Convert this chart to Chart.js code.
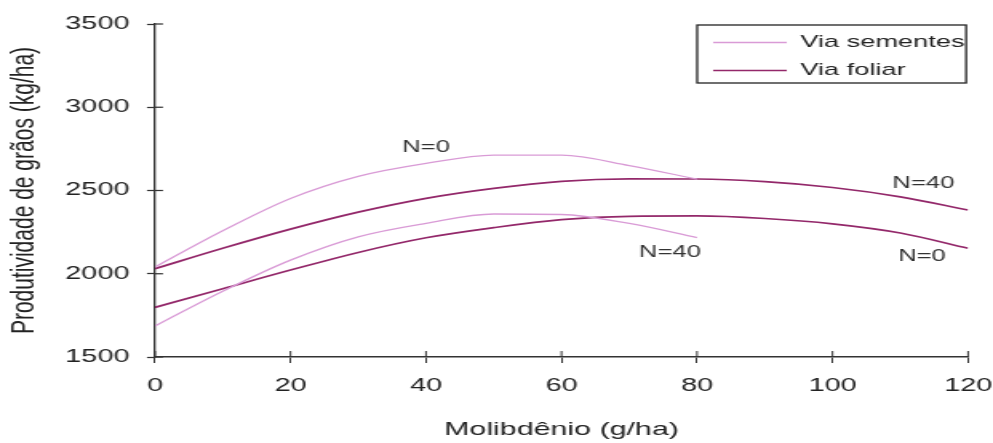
<!DOCTYPE html>
<html>
<head>
<meta charset="utf-8">
<script src="https://cdn.jsdelivr.net/npm/chart.js@4.4.1/dist/chart.umd.min.js"></script>
<style>
  html, body { margin: 0; padding: 0; background: #ffffff; overflow: hidden; }
  #wrap { width: 993px; height: 443px; overflow: hidden; }
  #c { display: block; width: 621px; height: 443px; transform: scaleX(1.599034); transform-origin: 0 0; }
</style>
</head>
<body>
<div id="wrap"><canvas id="c" width="621" height="443"></canvas></div>
<script>
// ---- data ----
const molySementes = [0, 10, 20, 30, 40, 50, 60, 70, 80];
const molyFoliar   = [0, 10, 20, 30, 40, 50, 60, 70, 80, 90, 100, 110, 120];

const sementesN0  = [2040, 2258, 2452, 2585, 2663, 2713, 2712, 2650, 2568];
const sementesN40 = [1686, 1895, 2082, 2222, 2303, 2359, 2356, 2302, 2217];
const foliarN40   = [2030, 2153, 2268, 2370, 2453, 2513, 2555, 2570, 2569, 2553, 2518, 2462, 2383];
const foliarN0    = [1798, 1910, 2022, 2128, 2216, 2277, 2325, 2345, 2347, 2332, 2300, 2245, 2153];

const xTickValues = [0, 20, 40, 60, 80, 100, 120];
const yTickValues = [1500, 2000, 2500, 3000, 3500];

const seriesNames = ['Via sementes', 'Via foliar'];
const curveTexts  = ['N=0', 'N=40', 'N=40', 'N=0'];
const curveTextX  = [40, 76, 113.4, 113.2];
const curveTextY  = [2755, 2125, 2543, 2102];

// ---- styling ----
const FONT = "'Liberation Sans', Arial, Helvetica, sans-serif";
const LIGHT = '#d99bd6';
const DARK = '#93286a';
const AXIS = '#333333';

const toPoints = (xs, ys) => xs.map((x, i) => ({ x: x, y: ys[i] }));

const innerTicks = {
  id: 'innerTicks',
  afterDraw(chart) {
    const ctx = chart.ctx;
    const xs = chart.scales.x, ys = chart.scales.y;
    const area = chart.chartArea;
    ctx.save();
    ctx.strokeStyle = AXIS;
    ctx.lineWidth = 1.25;
    yTickValues.forEach(v => {
      const py = ys.getPixelForValue(v);
      ctx.beginPath(); ctx.moveTo(area.left, py); ctx.lineTo(area.left + 5, py); ctx.stroke();
    });
    ctx.lineWidth = 1;
    xTickValues.forEach(v => {
      const px = xs.getPixelForValue(v);
      ctx.beginPath(); ctx.moveTo(px, area.bottom); ctx.lineTo(px, area.bottom - 6); ctx.stroke();
    });
    ctx.restore();
  }
};

const curveNotes = {
  id: 'curveNotes',
  afterDatasetsDraw(chart) {
    const ctx = chart.ctx;
    const xs = chart.scales.x, ys = chart.scales.y;
    ctx.save();
    ctx.font = '16px ' + FONT;
    ctx.fillStyle = '#333333';
    ctx.textAlign = 'center';
    ctx.textBaseline = 'middle';
    curveTexts.forEach((t, i) => {
      ctx.fillText(t, xs.getPixelForValue(curveTextX[i]), ys.getPixelForValue(curveTextY[i]));
    });
    ctx.restore();
  }
};

const legendPlacer = {
  id: 'legendPlacer',
  afterLayout(chart) {
    const lg = chart.legend, area = chart.chartArea;
    const w = 170.4;
    lg.left = area.right - w;
    lg.right = area.right;
    lg.top = area.top - 1;
    lg.bottom = area.bottom;
  },
  afterDraw(chart) {
    const lg = chart.legend, area = chart.chartArea;
    const ctx = chart.ctx;
    ctx.save();
    ctx.strokeStyle = '#222222';
    ctx.lineWidth = 1.3;
    ctx.strokeRect(lg.left + 1, lg.top + 2, area.right - 1.25 - (lg.left + 1), 58);
    ctx.restore();
  }
};

new Chart(document.getElementById('c'), {
  type: 'line',
  data: {
    datasets: [
      { label: seriesNames[0], data: toPoints(molySementes, sementesN0),  borderColor: LIGHT, borderWidth: 1.3 },
      { label: seriesNames[1], data: toPoints(molyFoliar,   foliarN40),   borderColor: DARK,  borderWidth: 1.7 },
      { label: seriesNames[0], data: toPoints(molySementes, sementesN40), borderColor: LIGHT, borderWidth: 1.3 },
      { label: seriesNames[1], data: toPoints(molyFoliar,   foliarN0),    borderColor: DARK,  borderWidth: 1.7 }
    ]
  },
  options: {
    responsive: false,
    animation: false,
    devicePixelRatio: 1,
    layout: { padding: { left: 0, right: 0, top: 24, bottom: 0 } },
    elements: {
      point: { radius: 0, hoverRadius: 0 },
      line: { tension: 0.4, cubicInterpolationMode: 'monotone', fill: false, backgroundColor: 'transparent' }
    },
    plugins: {
      tooltip: { enabled: false },
      legend: {
        position: 'chartArea',
        align: 'start',
        labels: {
          usePointStyle: true,
          pointStyle: 'line',
          pointStyleWidth: 46,
          padding: 11,
          color: '#222222',
          font: { family: FONT, size: 17 },
          filter: (item, data) => data.datasets.findIndex(d => d.label === item.text) === item.datasetIndex
        }
      }
    },
    scales: {
      x: {
        type: 'linear',
        min: 0, max: 120,
        afterBuildTicks: s => { s.ticks = xTickValues.map(v => ({ value: v })); },
        afterFit: s => { s.height = 86; s.paddingRight = 15.6; s.paddingLeft = 0; },
        border: { display: true, color: AXIS, width: 1.6 },
        grid: { drawOnChartArea: false, drawTicks: true, tickLength: 6, color: AXIS, tickWidth: 1 },
        ticks: { padding: 12, color: '#222222', font: { family: FONT, size: 18 }, maxRotation: 0, callback: v => String(v) },
        title: { display: true, text: 'Molibdênio (g/ha)', color: '#222222', font: { family: FONT, size: 19 }, padding: { top: 0, bottom: 2 } }
      },
      y: {
        type: 'linear',
        min: 1500, max: 3500,
        afterBuildTicks: s => { s.ticks = yTickValues.map(v => ({ value: v })); },
        afterFit: s => { s.width = 96.9; },
        border: { display: true, color: AXIS, width: 1.3 },
        grid: { drawOnChartArea: false, drawTicks: true, tickLength: 5, color: AXIS, tickWidth: 1.25 },
        ticks: { padding: 11, color: '#222222', font: { family: FONT, size: 18 }, callback: v => String(v) },
        title: { display: true, text: 'Produtividade de grãos (kg/ha)', color: '#222222', font: { family: FONT, size: 21 }, padding: { top: 3, bottom: 0 } }
      }
    }
  },
  plugins: [innerTicks, curveNotes, legendPlacer]
});
</script>
</body>
</html>
